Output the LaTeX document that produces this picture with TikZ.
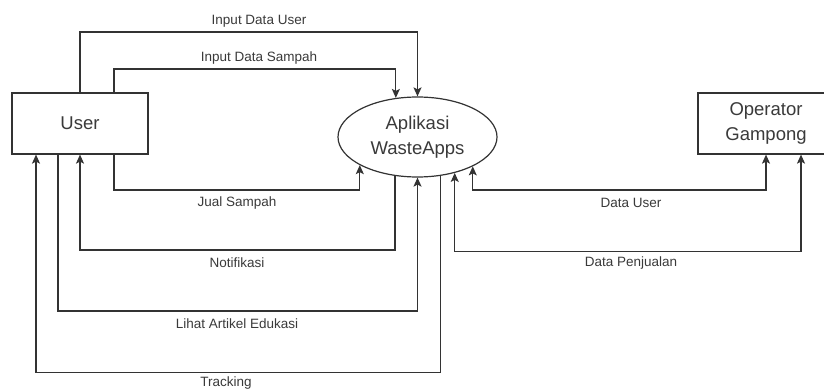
\documentclass[tikz,border=0pt]{standalone}
\usepackage{fontspec}
\setmainfont{Liberation Sans}
\usetikzlibrary{shapes.geometric,arrows.meta,calc}
\definecolor{ink}{HTML}{333333}
\definecolor{txt}{HTML}{3A3A3A}
\tikzset{
  tip/.tip={Stealth[length=9pt,width=8pt,inset=2pt]},
  entity/.style={draw=ink, line width=1.2pt, rectangle, minimum width=136pt, minimum height=61pt, inner sep=0pt, text=txt, font=\fontsize{18.5}{24.5}\selectfont, align=center, fill=white},
  proc/.style={draw=ink, line width=1.2pt, ellipse, minimum width=159pt, minimum height=80pt, inner sep=0pt, text=txt, font=\fontsize{18.5}{25}\selectfont, align=center, fill=white},
  flow/.style={draw=ink, line width=1.2pt, -tip},
  flow2/.style={draw=ink, line width=1.2pt, tip-tip},
  lbl/.style={text=txt, font=\fontsize{13.5}{15}\selectfont, inner sep=0pt}
}
\begin{document}
\begin{tikzpicture}[x=1pt,y=-1pt]
\useasboundingbox (0,0) rectangle (824,390);
\clip (0,0) rectangle (824,390);
\fill[white] (0,0) rectangle (824,390);

\node[entity] (user) at (80,123.5) {User};
\node[proc] (app) at (417.5,137) {Aplikasi\\WasteApps};
\node[entity] (op) at (766,123.5) {Operator\\Gampong};

% User -> App (top)
\draw[flow] (user.north) |- (app.north |- 0,32) -- (app.north);
\draw[flow] ($(user.north)+(34,0)$) |- (app.119.2 |- 0,69) -- (app.119.2);

% Jual Sampah
\draw[flow] ($(user.south)+(34,0)$) |- (app.206.4 |- 0,190) -- (app.206.4);
% Notifikasi
\draw[flow] (app.240.8) |- (user.south |- 0,250) -- (user.south);
% Lihat Artikel Edukasi
\draw[flow] ($(user.south)+(-22,0)$) |- (app.south |- 0,311) -- (app.south);
% Tracking
\draw[flow] (app.301.6) |- ($(user.south)+(-44,218)$) -- ($(user.south)+(-44,0)$);

% Operator links
\draw[flow2] (app.332.7) |- (op.south |- 0,190) -- (op.south);
\draw[flow2] (app.316.7) |- ($(op.south)+(35,97)$) -- ($(op.south)+(35,0)$);

% labels
\node[lbl] (l1) at (259,21) {Input Data User};
\node[lbl] (l2) at (259,58) {Input Data Sampah};
\node[lbl] (l3) at (237,203) {Jual Sampah};
\node[lbl] (l4) at (237,263) {Notifikasi};
\node[lbl] (l5) at (237,324) {Lihat Artikel Edukasi};
\node[lbl] (l6) at (226,383) {Tracking};
\node[lbl] (l7) at (631,203) {Data User};
\node[lbl] (l8) at (631,263) {Data Penjualan};
\end{tikzpicture}
\end{document}
